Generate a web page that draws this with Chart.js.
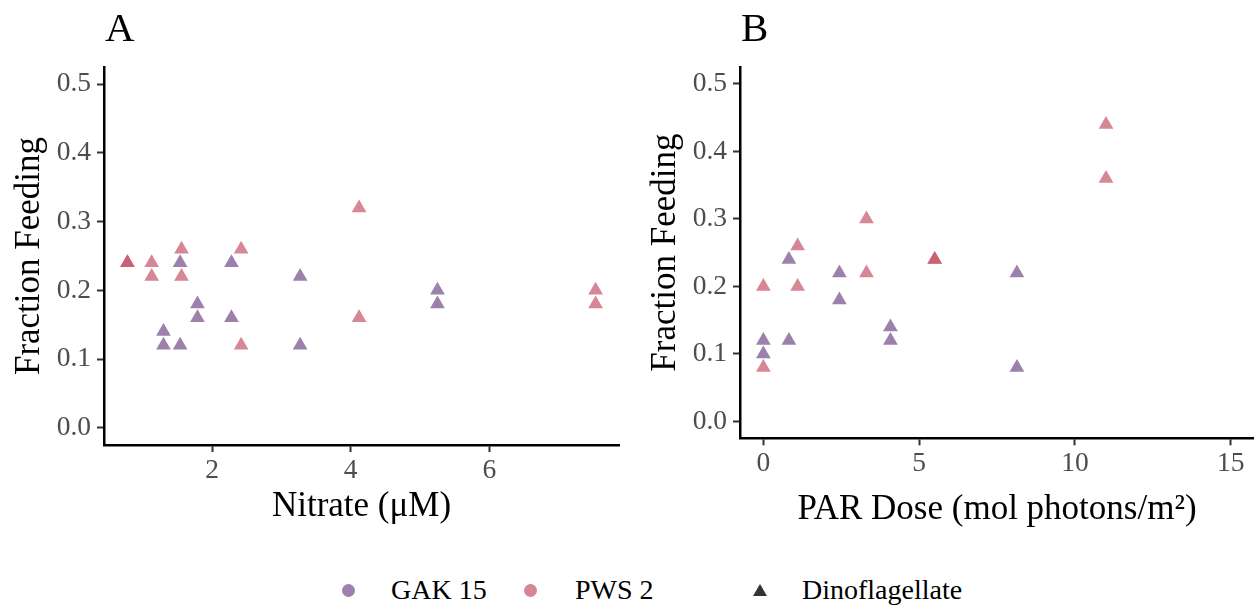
<!DOCTYPE html>
<html>
<head>
<meta charset="utf-8">
<script src="https://cdn.jsdelivr.net/npm/chart.js@4.4.0/dist/chart.umd.min.js"></script>
<style>
  body { margin: 0; background: #ffffff; }
  #wrap { position: relative; width: 1254px; height: 606px; font-family: "Liberation Serif", serif; }
  #chartA { position: absolute; left: 0; top: 0; }
  #chartB { position: absolute; left: 627px; top: 0; }
  .leg-text { position: absolute; top: 574px; font-size: 28px; line-height: 32px; color: #000; white-space: nowrap; }
  .leg-dot { position: absolute; width: 13px; height: 13px; border-radius: 50%; top: 583.5px; }
  .leg-tri { position: absolute; left: 753px; top: 584px; width: 0; height: 0;
             border-left: 7px solid transparent; border-right: 7px solid transparent; border-bottom: 12px solid #333; }
</style>
</head>
<body>
<div id="wrap">
  <canvas id="chartA" width="627" height="560"></canvas>
  <canvas id="chartB" width="627" height="560"></canvas>

  <div class="leg-dot" style="left:341.5px; background: rgba(116, 76, 138, 0.7);"></div>
  <span class="leg-text" style="left:391px;">GAK 15</span>
  <div class="leg-dot" style="left:524px; background: rgba(196, 82, 102, 0.7);"></div>
  <span class="leg-text" style="left:575px;">PWS 2</span>
  <div class="leg-tri"></div>
  <span class="leg-text" style="left:802px;">Dinoflagellate</span>
</div>

<script>
// Datos - panel A (nitrato)
const gakNitrate = [1.30, 1.30, 1.54, 1.54, 1.79, 1.79, 2.28, 2.28, 3.27, 3.27, 5.25, 5.25];
const gakFeedA   = [0.14, 0.12, 0.24, 0.12, 0.18, 0.16, 0.24, 0.16, 0.22, 0.12, 0.20, 0.18];
const pwsNitrate = [0.78, 0.78, 1.13, 1.13, 1.56, 1.56, 2.42, 2.42, 4.12, 4.12, 7.53, 7.53];
const pwsFeedA   = [0.24, 0.24, 0.24, 0.22, 0.26, 0.22, 0.26, 0.12, 0.32, 0.16, 0.20, 0.18];

// Datos - panel B (dosis PAR)
const gakPar   = [0, 0, 0.82, 0.82, 2.44, 2.44, 4.08, 4.08, 8.14, 8.14];
const gakFeedB = [0.12, 0.10, 0.24, 0.12, 0.22, 0.18, 0.14, 0.12, 0.22, 0.08];
const pwsPar   = [0, 0, 1.10, 1.10, 3.31, 3.31, 5.50, 5.50, 11.0, 11.0];
const pwsFeedB = [0.20, 0.08, 0.26, 0.20, 0.30, 0.22, 0.24, 0.24, 0.44, 0.36];

// Ejes
const yLimits = [0, 0.5];
const yStep = 0.1;
const xStepA = 2;
const xLimitsB = [0, 15];
const xStepB = 5;

const stationLabels = ['GAK 15', 'PWS 2'];
const stationColors = ['rgba(116, 76, 138, 0.7)', 'rgba(196, 82, 102, 0.7)'];

const serif = 'Liberation Serif';

function toPoints(xs, ys) {
    return xs.map((x, i) => ({ x: x, y: ys[i] }));
}

// expansion de 5% como ggplot
function expand(lo, hi) {
    const pad = (hi - lo) * 0.05;
    return [lo - pad, hi + pad];
}

const panelLabel = {
    id: 'panelLabel',
    afterDraw(chart, args, opts) {
        const ctx = chart.ctx;
        ctx.save();
        ctx.font = '41px "' + serif + '"';
        ctx.fillStyle = '#000';
        ctx.textBaseline = 'alphabetic';
        ctx.textAlign = 'left';
        ctx.fillText(opts.text, chart.chartArea.left + 1, 41);
        ctx.restore();
    }
};

function makeDataset(label, color, pts) {
    return {
        label: label,
        data: pts,
        backgroundColor: color,
        borderWidth: 0,
        pointStyle: 'triangle',
        pointRadius: 8.5,
        pointHoverRadius: 8.5
    };
}

function makeChart(canvasId, opts) {
    const ctx = document.getElementById(canvasId).getContext('2d');
    return new Chart(ctx, {
        type: 'scatter',
        data: { datasets: opts.datasets },
        plugins: [panelLabel],
        options: {
            responsive: false,
            animation: false,
            events: [],
            layout: {
                autoPadding: false,
                padding: { top: 67, right: opts.padRight, left: 0, bottom: 0 }
            },
            plugins: {
                legend: { display: false },
                tooltip: { enabled: false },
                panelLabel: { text: opts.tag }
            },
            scales: {
                x: {
                    type: 'linear',
                    min: opts.xMin,
                    max: opts.xMax,
                    afterFit: (scale) => {
                        scale.height = opts.xHeight;
                        scale.paddingLeft = 0;
                        scale.paddingRight = 0;
                    },
                    ticks: {
                        stepSize: opts.xStep,
                        includeBounds: false,
                        color: '#4d4d4d',
                        font: { family: serif, size: 27.5 },
                        padding: 2,
                        maxRotation: 0
                    },
                    grid: { drawOnChartArea: false, drawTicks: true, tickLength: 7, tickColor: '#333333', tickWidth: 2 },
                    border: { display: true, color: '#000000', width: 2.5 },
                    title: {
                        display: true,
                        text: opts.xTitle,
                        color: '#000000',
                        font: { family: serif, size: 35 },
                        padding: { top: 0, bottom: opts.xTitlePad }
                    }
                },
                y: {
                    type: 'linear',
                    min: expand(yLimits[0], yLimits[1])[0],
                    max: expand(yLimits[0], yLimits[1])[1],
                    afterFit: (scale) => {
                        scale.width = opts.yWidth;
                        scale.paddingTop = 0;
                        scale.paddingBottom = 0;
                    },
                    ticks: {
                        stepSize: yStep,
                        includeBounds: false,
                        color: '#4d4d4d',
                        font: { family: serif, size: 27.5 },
                        padding: 6,
                        callback: (v) => v.toFixed(1)
                    },
                    grid: { drawOnChartArea: false, drawTicks: true, tickLength: 7, tickColor: '#333333', tickWidth: 2 },
                    border: { display: true, color: '#000000', width: 2.5 },
                    title: {
                        display: true,
                        text: 'Fraction Feeding',
                        color: '#000000',
                        font: { family: serif, size: 35 },
                        padding: { top: opts.yTitlePad, bottom: 0 }
                    }
                }
            }
        }
    });
}

// Panel A
const allNitrate = gakNitrate.concat(pwsNitrate);
const xRangeA = expand(Math.min(...allNitrate), Math.max(...allNitrate));
makeChart('chartA', {
    tag: 'A',
    datasets: [
        makeDataset(stationLabels[0], stationColors[0], toPoints(gakNitrate, gakFeedA)),
        makeDataset(stationLabels[1], stationColors[1], toPoints(pwsNitrate, pwsFeedA))
    ],
    xMin: xRangeA[0], xMax: xRangeA[1], xStep: xStepA,
    xTitle: 'Nitrate (μM)',
    xHeight: 115, xTitlePad: 32,
    yWidth: 104, yTitlePad: 9,
    padRight: 8
});

// Panel B
const xRangeB = expand(xLimitsB[0], xLimitsB[1]);
makeChart('chartB', {
    tag: 'B',
    datasets: [
        makeDataset(stationLabels[0], stationColors[0], toPoints(gakPar, gakFeedB)),
        makeDataset(stationLabels[1], stationColors[1], toPoints(pwsPar, pwsFeedB))
    ],
    xMin: xRangeB[0], xMax: xRangeB[1], xStep: xStepB,
    xTitle: 'PAR Dose (mol photons/m²)',
    xHeight: 121.7, xTitlePad: 29,
    yWidth: 113, yTitlePad: 18,
    padRight: 0
});
</script>
</body>
</html>
